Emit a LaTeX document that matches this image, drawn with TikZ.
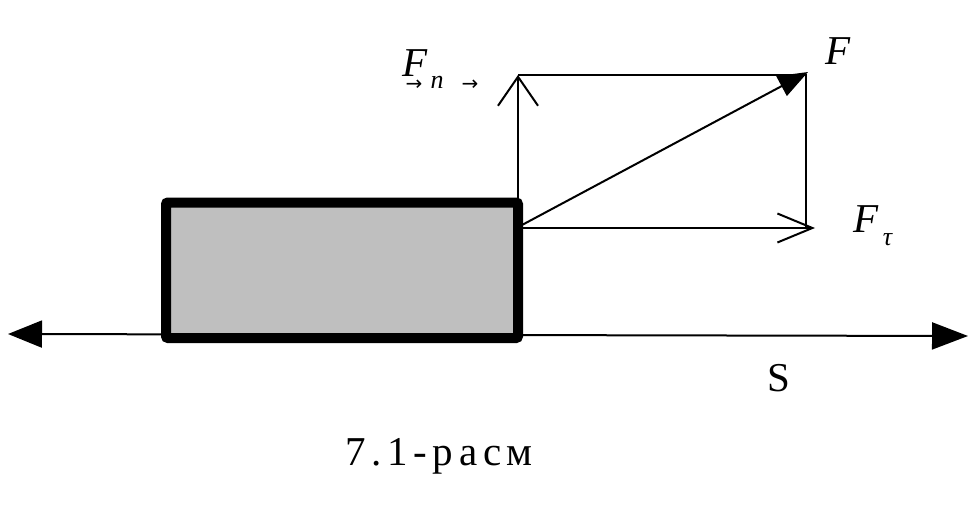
\documentclass[tikz,border=0pt]{standalone}
\usepackage{fontspec}
\setmainfont{Liberation Serif}
\newfontfamily\arrowfont{DejaVu Sans}
\usetikzlibrary{arrows.meta}

\begin{document}
\begin{tikzpicture}[x=1pt, y=-1pt,
    force/.style={line width=2pt, -{Straight Barb[length=29pt, width=40pt]}},
    big/.style={font=\fontsize{41}{41}\selectfont, inner sep=0pt},
    small/.style={font=\fontsize{26}{26}\selectfont, inner sep=0pt},
    tiny/.style={font=\fontsize{20}{20}\selectfont\arrowfont, inner sep=0pt}
]
    \useasboundingbox (0,0) rectangle (976,513);

    % path S
    \coordinate (sL) at (8,334);
    \coordinate (sR) at (968,336);
    \draw[line width=2pt, {Triangle[length=34pt, width=27pt]}-{Triangle[length=36pt, width=27pt]}] (sL) -- (sR);

    % body
    \node[draw, line width=10pt, fill=black!25, rounded corners=2pt, inner sep=0pt, outer sep=0pt,
          minimum width=352pt, minimum height=135.5pt] (block) at (342,270.25) {};

    % forces
    \coordinate (nTip) at (518,75);
    \coordinate (fTip) at (808,72);
    \coordinate (fCorner) at (806,75);
    \coordinate (fStart) at (522,225);
    \coordinate (tStart) at (522,228);
    \coordinate (tCorner) at (806,228);
    \coordinate (tTip) at (815,228);

    \draw[force] (block.north east) -- (nTip);
    \draw[line width=2pt] (nTip) -- (fCorner) -- (tCorner);
    \draw[line width=2pt, -{Triangle[length=30pt, width=22pt]}] (fStart) -- (fTip);
    \draw[line width=2pt, -{Straight Barb[length=35pt, width=29pt]}] (tStart) -- (tTip);

    % labels
    \node[big] (F) at (838,51) {\textit{F}};
    \node[big] (Fn) at (415,63) {\textit{F}};
    \node[small] (n) at (437,82) {\textit{n}};
    \node[tiny] (vecA) at (414,85) {→};
    \node[tiny] (vecB) at (470,85) {→};
    \node[big] (Ft) at (866,219) {\textit{F}};
    \node[small] (tau) at (888,240) {\textit{τ}};
    \node[big] (S) at (779,378) {S};

    \node[big, anchor=base] (caption) at (439,465) {\addfontfeatures{LetterSpace=14}7.1-расм};
\end{tikzpicture}
\end{document}
